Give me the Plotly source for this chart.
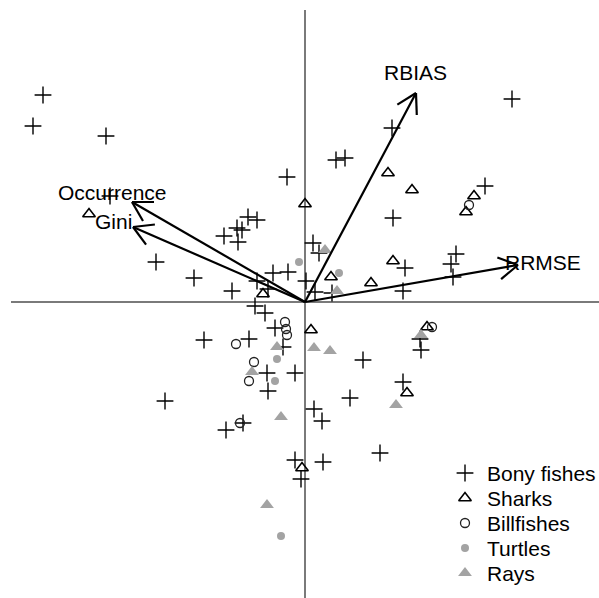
import numpy as np
import plotly.graph_objects as go

# ---- PCA scores (PC1, PC2) by taxonomic group ----
bony_x = [-5.24, -5.44, -3.98, -3.90, -2.98, -2.22, -0.36, 0.62, 0.80, 1.74,
          1.76, 4.14, 3.60, -1.14, -0.96, -1.36, -1.26, -1.62, -1.34, 0.16,
          0.28, -0.64, -0.34, 0.02, -1.46, -0.96, -0.74, 0.20, 0.54, -1.00,
          -0.80, 2.00, 3.02, 2.92, 2.96, 1.96, -0.60, -2.02, -1.12, -0.44,
          1.16, -0.76, -0.20, -0.74, 0.90, 0.18, 0.34, -1.24, -1.58, -2.80,
          2.30, 2.32, 1.96, 1.50, -0.20, 0.36, -0.08]
bony_y = [4.14, 3.52, 3.32, 2.12, 0.80, 0.48, 2.50, 2.84, 2.88, 3.48,
          1.68, 4.06, 2.32, 1.70, 1.64, 1.48, 1.44, 1.32, 1.20, 1.18,
          0.98, 0.58, 0.60, 0.42, 0.22, 0.42, 0.26, 0.20, 0.18, -0.08,
          -0.22, 0.68, 0.96, 0.76, 0.50, 0.22, -0.52, -0.76, -0.74, -0.90,
          -1.16, -1.42, -1.42, -1.78, -1.92, -2.14, -2.38, -2.42, -2.56, -1.98,
          -0.74, -0.96, -1.60, -3.02, -3.16, -3.20, -3.54]

shark_x = [-4.32, 0.00, 1.66, 2.14, 3.38, 3.22, 1.76, 0.52, 1.32, -0.84,
           0.12, 2.44, 2.04, -0.06]
shark_y = [1.76, 1.96, 2.58, 2.24, 2.12, 1.80, 0.82, 0.50, 0.38, 0.16,
           -0.56, -0.50, -1.82, -3.32]

bill_x = [3.28, 2.54, -0.40, -0.38, -0.36, -1.38, -1.02, -1.12, -1.30]
bill_y = [1.94, -0.50, -0.40, -0.54, -0.66, -0.84, -1.20, -1.58, -2.42]

turtle_x = [-0.12, 0.68, -0.56, -0.60, -0.48]
turtle_y = [0.80, 0.58, -1.14, -1.58, -4.68]

ray_x = [0.40, 0.64, 2.32, -0.56, 0.18, 0.50, -1.06, 1.82, -0.48, -0.76]
ray_y = [1.04, 0.22, -0.66, -0.90, -0.92, -0.98, -1.40, -2.06, -2.30, -4.06]

group_names = ["Bony fishes", "Sharks", "Billfishes", "Turtles", "Rays"]

# ---- variable loadings (arrow tips) ----
var_names = ["RBIAS", "RRMSE", "Occurrence", "Gini"]
load_x = [2.22, 4.26, -3.46, -3.44]
load_y = [4.18, 0.74, 2.00, 1.50]

# label offsets from arrow tips, in pixels
label_shift = {"RBIAS": (-1, 21), "RRMSE": (25, 3),
               "Occurrence": (-20, 10), "Gini": (-20, 6)}

GRAY = "#a3a3a3"
FONT = "Liberation Sans, Arial, sans-serif"

marker_styles = {
    "Bony fishes": dict(symbol="cross-thin-open", size=12, color="black",
                        line=dict(color="black", width=1.4)),
    "Sharks": dict(symbol="triangle-up-open", size=11, color="black",
                   line=dict(color="black", width=1.6)),
    "Billfishes": dict(symbol="circle-open", size=9, color="#222222",
                       line=dict(color="#222222", width=1.3)),
    "Turtles": dict(symbol="circle", size=8, color=GRAY, line=dict(width=0)),
    "Rays": dict(symbol="triangle-up", size=12, color=GRAY, line=dict(width=0)),
}

# plot window: 50 px per unit, origin at pixel (305, 302)
W, H = 599, 598
PX = 50.0
x_range = [-305 / PX, (W - 305) / PX]
y_range = [-(H - 302) / PX, 302 / PX]

fig = go.Figure()

groups = [(bony_x, bony_y), (shark_x, shark_y), (bill_x, bill_y),
          (turtle_x, turtle_y), (ray_x, ray_y)]
for name, (gx, gy) in zip(group_names, groups):
    fig.add_trace(go.Scatter(x=gx, y=gy, mode="markers", name=name,
                             showlegend=False, marker=marker_styles[name]))

# ---- loading arrows with open V heads ----
head_len = 22 / PX
head_ang = np.deg2rad(30)
ax_, ay_ = [], []
for lx, ly in zip(load_x, load_y):
    ax_ += [0, lx, None]
    ay_ += [0, ly, None]
    theta = np.arctan2(ly, lx)
    for s in (1, -1):
        a = theta + np.pi + s * head_ang
        ax_ += [lx, lx + head_len * np.cos(a), None]
        ay_ += [ly, ly + head_len * np.sin(a), None]
fig.add_trace(go.Scatter(
    x=ax_, y=ay_, mode="lines", showlegend=False, hoverinfo="skip",
    line=dict(color="black", width=2.2)))

for name, lx, ly in zip(var_names, load_x, load_y):
    dx, dy = label_shift[name]
    fig.add_annotation(x=lx, y=ly, text=name, showarrow=False,
                       xshift=dx, yshift=dy, xanchor="center", yanchor="middle",
                       font=dict(family=FONT, size=21, color="black"))

# ---- legend (keys on a pixel-space overlay axis) ----
leg_key_x, leg_text_x, leg_top, leg_step = 465, 485, 473, 25
for i, name in enumerate(group_names):
    yk = leg_top + i * leg_step
    fig.add_trace(go.Scatter(x=[leg_key_x], y=[yk], mode="markers",
                             xaxis="x2", yaxis="y2", showlegend=False,
                             hoverinfo="skip", marker=marker_styles[name]))
    fig.add_annotation(x=leg_text_x, y=yk, xref="x2", yref="y2", text=name,
                       showarrow=False, xanchor="left", yanchor="middle",
                       font=dict(family=FONT, size=21, color="black"))

# ---- zero reference lines ----
fig.add_shape(type="line", xref="paper", yref="y", x0=11 / W, x1=1, y0=0, y1=0,
              line=dict(color="#7a7a7a", width=2), layer="below")
fig.add_shape(type="line", xref="x", yref="paper", x0=0, x1=0, y0=0, y1=1 - 10 / H,
              line=dict(color="#7a7a7a", width=2), layer="below")

fig.update_layout(
    width=W, height=H,
    margin=dict(l=0, r=0, t=0, b=0),
    paper_bgcolor="white", plot_bgcolor="white",
    xaxis=dict(range=x_range, visible=False, showgrid=False, zeroline=False),
    yaxis=dict(range=y_range, visible=False, showgrid=False, zeroline=False),
    xaxis2=dict(range=[0, W], visible=False, overlaying="x", anchor="y2"),
    yaxis2=dict(range=[H, 0], visible=False, overlaying="y", anchor="x2"),
    showlegend=False,
)

fig.write_html("out.html")
